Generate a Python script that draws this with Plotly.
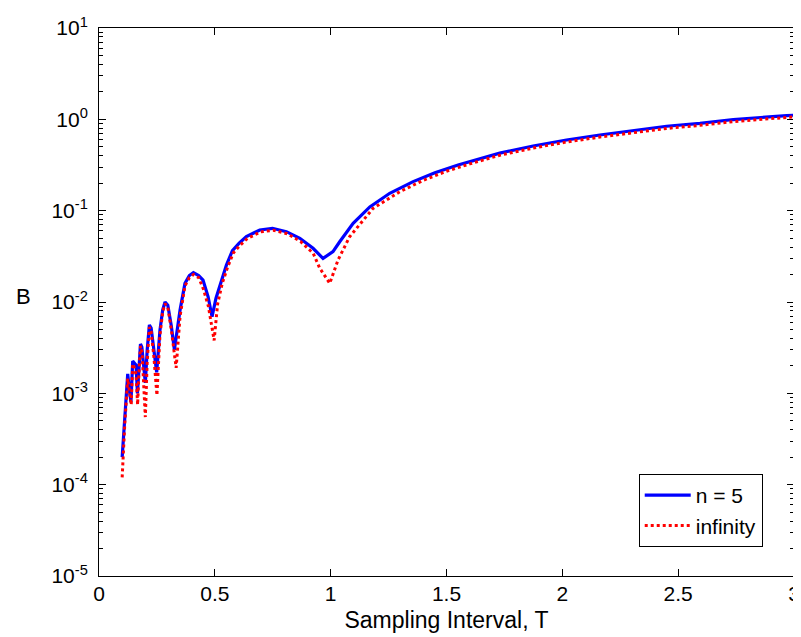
import plotly.graph_objects as go

# ---- data ----
t_n5 = [0.100, 0.111, 0.124, 0.131, 0.138, 0.1455, 0.153, 0.160, 0.166, 0.172,
        0.179, 0.185, 0.193, 0.200, 0.208, 0.2175, 0.225, 0.236, 0.249, 0.263,
        0.275, 0.285, 0.297, 0.312, 0.3255, 0.350, 0.371, 0.390, 0.4075, 0.430,
        0.449, 0.471, 0.488, 0.505, 0.528, 0.550, 0.576, 0.605, 0.636, 0.694,
        0.749, 0.809, 0.867, 0.924, 0.967, 1.010, 1.039, 1.097, 1.169, 1.255,
        1.356, 1.450, 1.550, 1.650, 1.730, 1.874, 2.018, 2.162, 2.306, 2.450,
        2.594, 2.738, 2.968, 3.000]
b_n5 = [2.0e-4, 5.8e-4, 1.63e-3, 1.1e-3, 8.0e-4, 2.26e-3, 2.15e-3, 2.04e-3, 1.0e-3, 1.9e-3,
        3.47e-3, 3.2e-3, 1.8e-3, 1.3e-3, 3.0e-3, 5.6e-3, 5.2e-3, 3.0e-3, 1.7e-3, 4.9e-3,
        8.2e-3, 1.0e-2, 9.2e-3, 5.5e-3, 3.0e-3, 8.2e-3, 1.6e-2, 1.95e-2, 2.1e-2, 1.95e-2,
        1.74e-2, 1.14e-2, 6.9e-3, 1.1e-2, 1.74e-2, 2.54e-2, 3.65e-2, 4.4e-2, 5.19e-2, 6.14e-2,
        6.41e-2, 5.89e-2, 4.98e-2, 3.87e-2, 3.0e-2, 3.56e-2, 4.57e-2, 7.26e-2, 0.110, 0.155,
        0.208, 0.260, 0.316, 0.376, 0.427, 0.511, 0.594, 0.673, 0.751, 0.840,
        0.904, 0.995, 1.10, 1.11]

t_inf = [0.100, 0.111, 0.124, 0.131, 0.139, 0.1455, 0.153, 0.160, 0.1667, 0.172,
         0.179, 0.186, 0.193, 0.200, 0.208, 0.2175, 0.225, 0.237, 0.250, 0.263,
         0.275, 0.285, 0.297, 0.313, 0.333, 0.350, 0.371, 0.390, 0.4075, 0.430,
         0.450, 0.472, 0.497, 0.512, 0.532, 0.555, 0.580, 0.610, 0.640, 0.697,
         0.752, 0.812, 0.870, 0.925, 0.953, 0.996, 1.032, 1.082, 1.183, 1.298,
         1.400, 1.500, 1.600, 1.730, 1.874, 2.018, 2.162, 2.306, 2.450, 2.594,
         2.738, 2.968, 3.000]
b_inf = [1.2e-4, 4.5e-4, 1.45e-3, 1.0e-3, 7.5e-4, 2.1e-3, 1.9e-3, 1.6e-3, 7.5e-4, 1.6e-3,
         3.3e-3, 2.8e-3, 1.2e-3, 5.5e-4, 2.2e-3, 5.3e-3, 4.8e-3, 2.5e-3, 9.5e-4, 4.3e-3,
         7.8e-3, 9.6e-3, 8.8e-3, 4.8e-3, 1.9e-3, 7.0e-3, 1.5e-2, 1.85e-2, 2.0e-2, 1.85e-2,
         1.4e-2, 9.0e-3, 3.8e-3, 9.5e-3, 1.6e-2, 2.4e-2, 3.45e-2, 4.2e-2, 4.95e-2, 5.85e-2,
         6.1e-2, 5.6e-2, 4.6e-2, 3.4e-2, 2.34e-2, 1.6e-2, 2.89e-2, 5.19e-2, 0.106, 0.161,
         0.215, 0.270, 0.325, 0.405, 0.485, 0.565, 0.640, 0.715, 0.795, 0.860,
         0.945, 1.05, 1.06]

x_ticks = [0, 0.5, 1, 1.5, 2, 2.5, 3]
x_ticklabels = ["0", "0.5", "1", "1.5", "2", "2.5", "3"]
y_exponents = [-5, -4, -3, -2, -1, 0, 1]
y_ticklabels = ["10<sup>%d</sup>" % e for e in y_exponents]

FONT = "Liberation Sans, Arial, Helvetica, sans-serif"
FS = 21

fig = go.Figure()
fig.add_trace(go.Scatter(x=t_n5, y=b_n5, mode="lines", name="n = 5",
                         line=dict(color="#0000FF", width=3.2)))
fig.add_trace(go.Scatter(x=t_inf, y=b_inf, mode="lines", name="infinity",
                         line=dict(color="#FF0000", width=3, dash="dot")))

minor_vals = [m * 10.0 ** e for e in y_exponents[:-1] for m in range(2, 10)]

# the page body adds an 8px offset, so the figure is 8px smaller than the window
fig.update_layout(
    width=793, height=629,
    margin=dict(l=91, r=7, t=20, b=61),
    paper_bgcolor="white", plot_bgcolor="white",
    font=dict(family=FONT, size=FS, color="black"),
    showlegend=True,
    legend=dict(x=0.955, y=0.053, xanchor="right", yanchor="bottom",
                bgcolor="white", bordercolor="black", borderwidth=1,
                font=dict(family=FONT, size=21, color="black"),
                itemwidth=46),
    xaxis=dict(range=[0, 3], tickvals=x_ticks, ticktext=x_ticklabels,
               showgrid=False, zeroline=False, showline=True, linecolor="black",
               linewidth=1, mirror="ticks", ticks="inside", ticklen=7,
               tickcolor="black", ticklabelstandoff=-1, automargin=False,
               tickfont=dict(family=FONT, size=FS),
               title=dict(text="Sampling Interval, T", standoff=7,
                          font=dict(family=FONT, size=23))),
    yaxis=dict(type="log", range=[-5, 1],
               tickvals=[10.0 ** e for e in y_exponents], ticktext=y_ticklabels,
               showgrid=False, zeroline=False, showline=True, linecolor="black",
               linewidth=1, mirror="ticks", ticks="inside", ticklen=7,
               tickcolor="black", ticklabelstandoff=6, automargin=False,
               tickfont=dict(family=FONT, size=FS),
               minor=dict(tickvals=minor_vals, ticks="inside", ticklen=4,
                          tickcolor="black", showgrid=False)),
    annotations=[dict(text="B", xref="paper", yref="paper", x=-0.108, y=0.51,
                      showarrow=False, font=dict(family=FONT, size=22),
                      xanchor="center", yanchor="middle")],
)

fig.write_html("out.html")
